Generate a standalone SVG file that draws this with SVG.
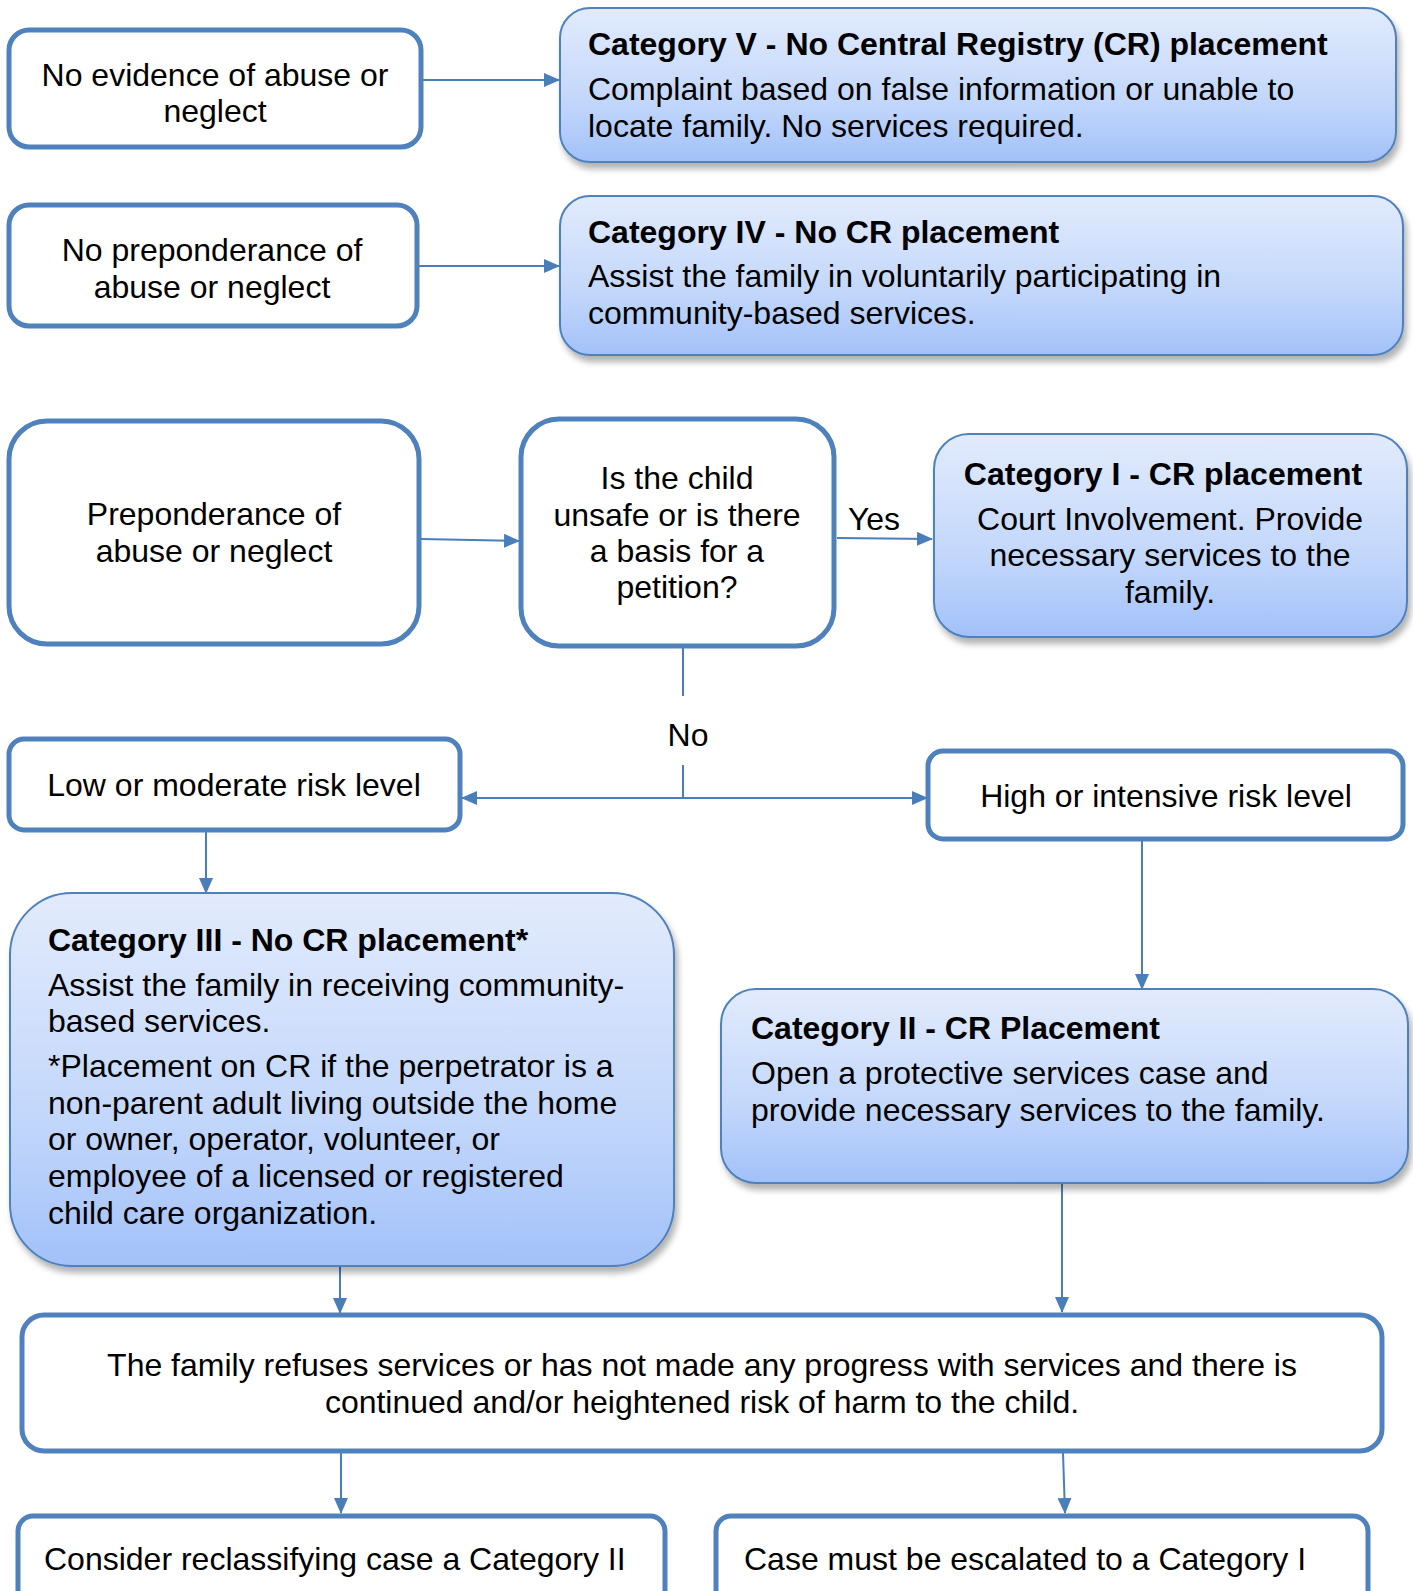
<svg xmlns="http://www.w3.org/2000/svg" width="1413" height="1591" viewBox="0 0 1413 1591">
<style>
.wb{fill:#ffffff;stroke:#4f81bd;stroke-width:5}
.bb{fill:url(#g);stroke:#4f81bd;stroke-width:2;filter:url(#sh)}
text{font-family:"Liberation Sans",Arial,sans-serif;font-size:32px;fill:#000}
.t{font-weight:bold}
.c{text-anchor:middle}
.ln{stroke:#4a7ebb;stroke-width:2;fill:none}
</style>
<defs>
<linearGradient id="g" x1="0" y1="0" x2="0" y2="1">
<stop offset="0" stop-color="#e2ebfc"/>
<stop offset="0.6" stop-color="#c3d7fb"/>
<stop offset="1" stop-color="#a2c1f9"/>
</linearGradient>
<filter id="sh" x="-5%" y="-5%" width="115%" height="120%">
<feDropShadow dx="3" dy="6" stdDeviation="3" flood-color="#000" flood-opacity="0.3"/>
</filter>
<marker id="ah" markerWidth="16" markerHeight="14" refX="15" refY="7" orient="auto-start-reverse" markerUnits="userSpaceOnUse" viewBox="0 0 16 14">
<path d="M0,0 L16,7 L0,14 z" fill="#4a7ebb"/>
</marker>
</defs>

<g id="connectors">
<line class="ln" x1="422" y1="80" x2="559" y2="80" marker-end="url(#ah)"/>
<line class="ln" x1="417" y1="266" x2="559" y2="266" marker-end="url(#ah)"/>
<line class="ln" x1="421" y1="539" x2="519" y2="541" marker-end="url(#ah)"/>
<line class="ln" x1="837" y1="538" x2="932" y2="539" marker-end="url(#ah)"/>
<line class="ln" x1="683" y1="648" x2="683" y2="696"/>
<line class="ln" x1="683" y1="765" x2="683" y2="798"/>
<line class="ln" x1="462" y1="798" x2="927" y2="798" marker-start="url(#ah)" marker-end="url(#ah)"/>
<line class="ln" x1="206" y1="831" x2="206" y2="893" marker-end="url(#ah)"/>
<line class="ln" x1="1142" y1="841" x2="1142" y2="989" marker-end="url(#ah)"/>
<line class="ln" x1="340" y1="1267" x2="340" y2="1313" marker-end="url(#ah)"/>
<line class="ln" x1="1062" y1="1183" x2="1062" y2="1312" marker-end="url(#ah)"/>
<line class="ln" x1="341" y1="1453" x2="341" y2="1513" marker-end="url(#ah)"/>
<line class="ln" x1="1063" y1="1453" x2="1065" y2="1513" marker-end="url(#ah)"/>
<text x="874" y="530" class="c">Yes</text>
<text x="688" y="746" class="c">No</text>
</g>

<g id="n-no-evidence">
<rect class="wb" x="9" y="30" width="412" height="117" rx="20"/>
<text x="215" y="86" class="c">No evidence of abuse or</text>
<text x="215" y="122" class="c">neglect</text>
</g>

<g id="n-cat5">
<rect class="bb" x="560" y="8" width="836" height="154" rx="30"/>
<text x="588" y="55" class="t">Category V - No Central Registry (CR) placement</text>
<text x="588" y="100">Complaint based on false information or unable to</text>
<text x="588" y="137">locate family. No services required.</text>
</g>

<g id="n-no-preponderance">
<rect class="wb" x="9" y="205" width="408" height="121" rx="20"/>
<text x="212" y="261" class="c">No preponderance of</text>
<text x="212" y="298" class="c">abuse or neglect</text>
</g>

<g id="n-cat4">
<rect class="bb" x="560" y="196" width="843" height="159" rx="30"/>
<text x="588" y="243" class="t">Category IV - No CR placement</text>
<text x="588" y="287">Assist the family in voluntarily participating in</text>
<text x="588" y="324">community-based services.</text>
</g>

<g id="n-preponderance">
<rect class="wb" x="9" y="421" width="410" height="223" rx="38"/>
<text x="214" y="525" class="c">Preponderance of</text>
<text x="214" y="562" class="c">abuse or neglect</text>
</g>

<g id="n-decision">
<rect class="wb" x="521" y="419" width="313" height="227" rx="38"/>
<text x="677" y="489" class="c">Is the child</text>
<text x="677" y="526" class="c">unsafe or is there</text>
<text x="677" y="562" class="c">a basis for a</text>
<text x="677" y="598" class="c">petition?</text>
</g>

<g id="n-cat1">
<rect class="bb" x="934" y="434" width="473" height="203" rx="35"/>
<text x="1163" y="485" class="t c">Category I - CR placement</text>
<text x="1170" y="530" class="c">Court Involvement. Provide</text>
<text x="1170" y="566" class="c">necessary services to the</text>
<text x="1170" y="603" class="c">family.</text>
</g>

<g id="n-low">
<rect class="wb" x="9" y="739" width="451" height="91" rx="15"/>
<text x="234" y="796" class="c">Low or moderate risk level</text>
</g>

<g id="n-high">
<rect class="wb" x="928" y="751" width="475" height="88" rx="15"/>
<text x="1166" y="807" class="c">High or intensive risk level</text>
</g>

<g id="n-cat3">
<rect class="bb" x="10" y="893" width="664" height="373" rx="62"/>
<text x="48" y="951" class="t">Category III - No CR placement*</text>
<text x="48" y="996">Assist the family in receiving community-</text>
<text x="48" y="1032">based services.</text>
<text x="48" y="1077">*Placement on CR if the perpetrator is a</text>
<text x="48" y="1114">non-parent adult living outside the home</text>
<text x="48" y="1150">or owner, operator, volunteer, or</text>
<text x="48" y="1187">employee of a licensed or registered</text>
<text x="48" y="1224">child care organization.</text>
</g>

<g id="n-cat2">
<rect class="bb" x="721" y="989" width="687" height="194" rx="35"/>
<text x="751" y="1039" class="t">Category II - CR Placement</text>
<text x="751" y="1084">Open a protective services case and</text>
<text x="751" y="1121">provide necessary services to the family.</text>
</g>

<g id="n-refuses">
<rect class="wb" x="22" y="1315" width="1360" height="136" rx="22"/>
<text x="702" y="1376" class="c">The family refuses services or has not made any progress with services and there is</text>
<text x="702" y="1413" class="c">continued and/or heightened risk of harm to the child.</text>
</g>

<g id="n-reclassify">
<rect class="wb" x="18" y="1516" width="647" height="100" rx="15"/>
<text x="44" y="1570">Consider reclassifying case a Category II</text>
</g>

<g id="n-escalate">
<rect class="wb" x="716" y="1516" width="652" height="100" rx="15"/>
<text x="744" y="1570">Case must be escalated to a Category I</text>
</g>
</svg>
